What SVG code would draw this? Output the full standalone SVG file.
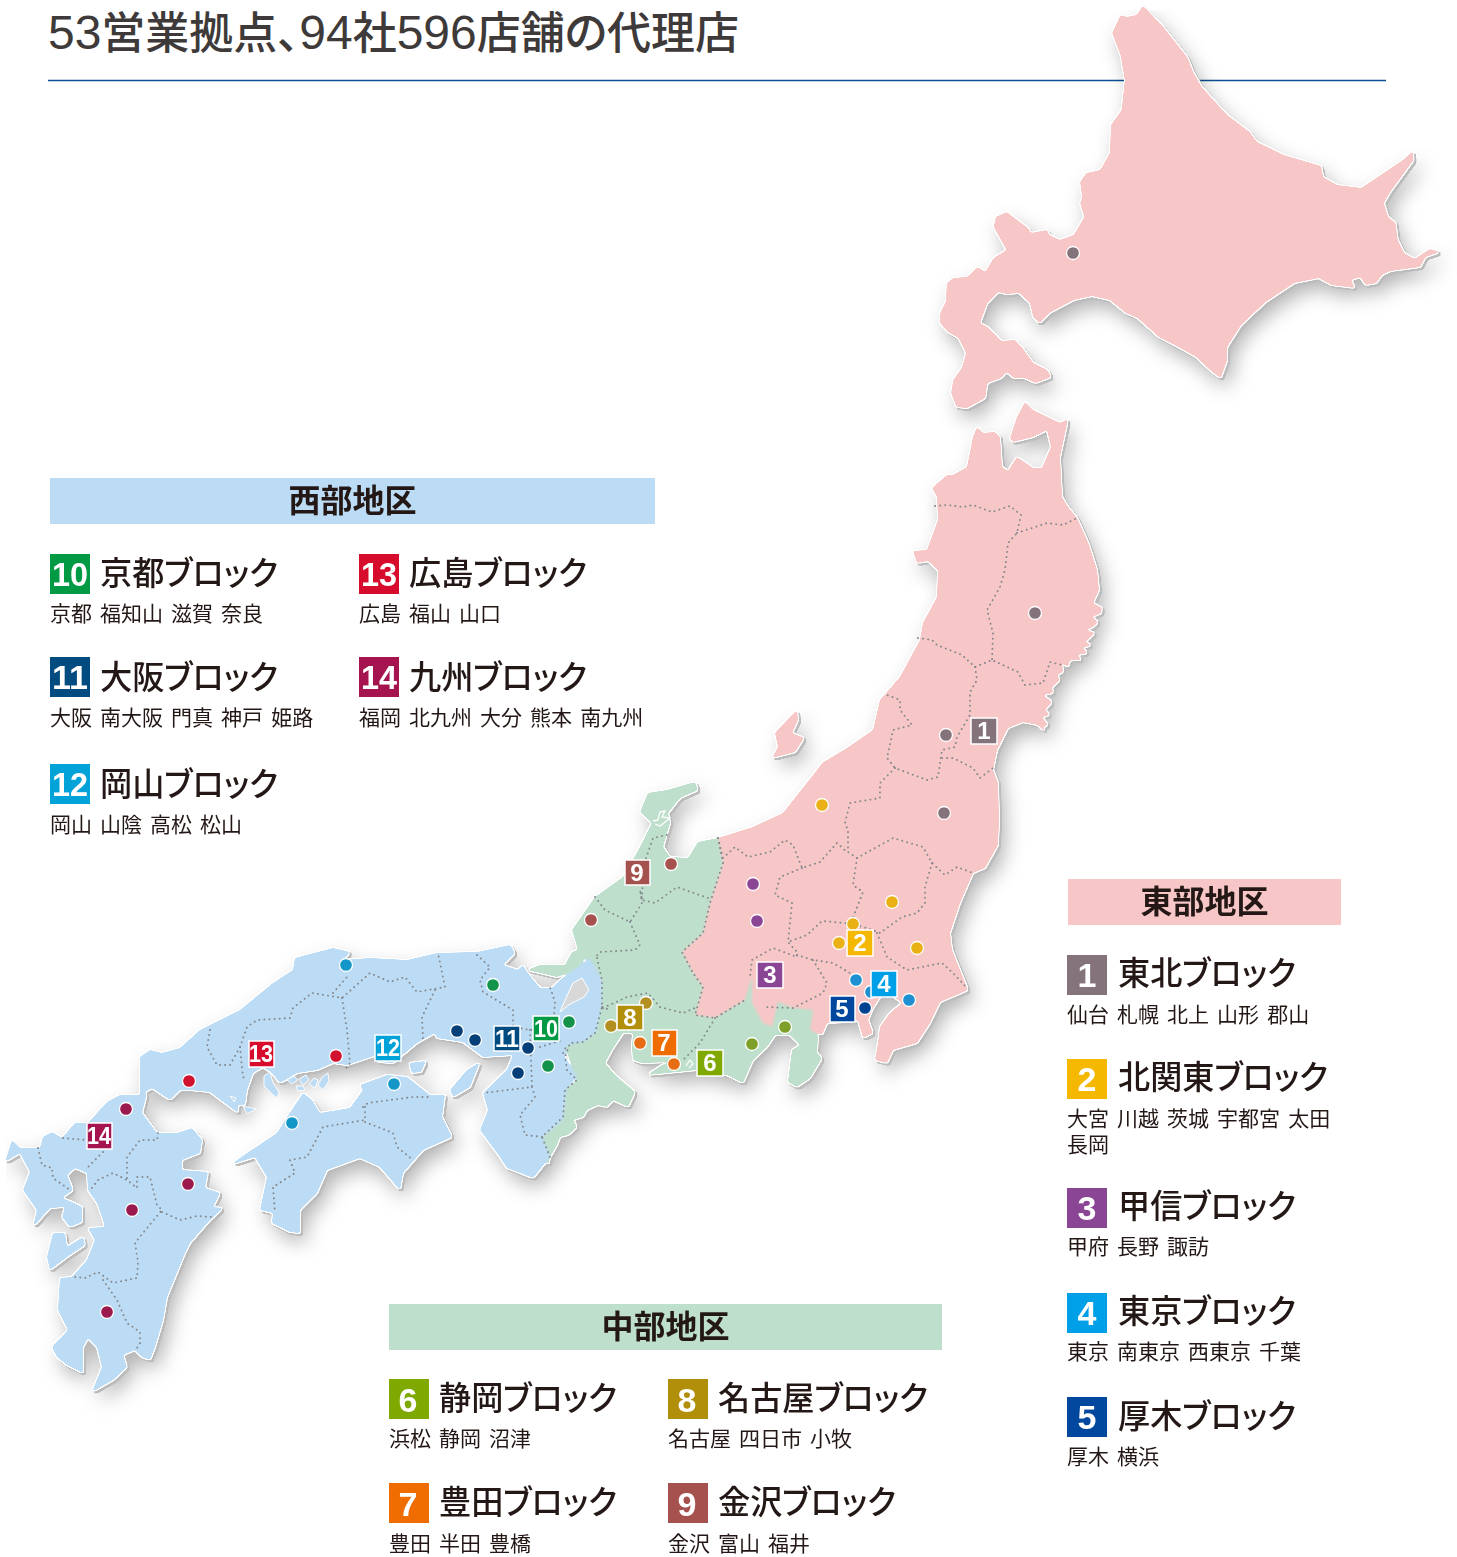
<svg xmlns="http://www.w3.org/2000/svg" width="1457" height="1557" viewBox="0 0 1457 1557">
<defs>
<filter id="shadow" filterUnits="userSpaceOnUse" x="0" y="0" width="1457" height="1557" color-interpolation-filters="sRGB">
<feGaussianBlur in="SourceGraphic" stdDeviation="1.2" result="b"/>
<feComponentTransfer in="b" result="t"><feFuncA type="linear" slope="7" intercept="-3"/></feComponentTransfer>
<feMorphology in="t" operator="dilate" radius="0.9" result="d"/>
<feFlood flood-color="#ffffff"/>
<feComposite in2="d" operator="in" result="white"/>
<feOffset in="d" dx="2" dy="2.2" result="h"/>
<feFlood flood-color="#bcbcbc"/>
<feComposite in2="h" operator="in" result="hard"/>
<feGaussianBlur in="t" stdDeviation="10" result="sb"/>
<feOffset in="sb" dx="6" dy="10" result="so"/>
<feFlood flood-color="#000000" flood-opacity="0.3"/>
<feComposite in2="so" operator="in" result="soft"/>
<feMerge><feMergeNode in="soft"/><feMergeNode in="hard"/><feMergeNode in="white"/><feMergeNode in="t"/></feMerge>
</filter>
</defs>
<style>
text{font-family:"Liberation Sans","Noto Sans CJK JP",sans-serif}
.title{font-size:44px;fill:#3e3a39;font-weight:500;font-feature-settings:"palt"}
.dg{font-size:48px;font-weight:400}
.pink{fill:#f6c7c6}.green{fill:#bedfcc}.blue{fill:#bcdcf5}
.bord{fill:none;stroke:#84878c;stroke-width:1.9;stroke-linecap:round;stroke-dasharray:0.1 5;stroke-linejoin:round}
.pt{stroke:#fff;stroke-width:1.3}
.mk{stroke:#fff;stroke-width:1.5}
.mt{font-weight:700;font-size:24px;fill:#fff;text-anchor:middle}
.area{font-size:32px;font-weight:700;fill:#231815;text-anchor:middle}
.bt{font-weight:700;font-size:34px;fill:#fff;text-anchor:middle}
.hd{font-size:33px;font-weight:500;fill:#231815;font-feature-settings:"palt"}
.sub{font-size:21px;fill:#231815;word-spacing:2.2px}
.isle{fill:#bcdcf5;stroke:#fff;stroke-width:.9}
</style>
<line x1="48" y1="80.5" x2="1386" y2="80.5" stroke="#0b4f92" stroke-width="1.5"/>
<text class="title" x="48" y="49" textLength="691" lengthAdjust="spacingAndGlyphs"><tspan class="dg">53</tspan>営業拠点、<tspan class="dg">94</tspan>社<tspan class="dg">596</tspan>店舗の代理店</text>

<g id="map" filter="url(#shadow)">
<path id="hokkaido" class="pink" transform="translate(900 0) scale(1.0657 1) translate(-900 0)" d="M1128 6L1132 10L1147 27L1170 58L1175 72L1183 87L1207 115L1228 132L1235 142L1260 155L1295 166L1297 177L1310 185L1333 188L1372 160L1381 151L1382 160L1375 170L1360 192L1354 203L1358 217L1365 223L1367 240L1373 253L1383 259L1397 249L1407 252L1393 257L1388 267L1360 271L1352 275L1347 283L1337 285L1332 277L1323 280L1327 288L1305 285L1293 278L1270 283L1243 302L1220 325L1207 347L1207 360L1201 378L1193 372L1178 357L1163 348L1143 337L1123 318L1112 313L1097 300L1080 296L1063 300L1040 313L1031 323L1025 317L1022 303L1012 293L1000 294L992 292L982 303L975 323L982 327L995 341L1008 340L1015 348L1025 363L1038 370L1042 377L1027 383L1017 378L1007 378L1000 372L995 378L982 383L980 398L963 408L953 407L948 393L950 380L958 368L962 353L955 338L945 332L937 322L938 312L943 302L944 283L950 278L963 277L973 267L980 272L988 258L1000 250L988 227L990 217L1000 212L1020 228L1023 233L1038 230L1040 235L1050 240L1063 235L1073 217L1069 203L1071 197L1069 182L1075 173L1088 170L1097 153L1098 125L1108 110L1111 80L1107 55L1099 33L1107 15L1113 17L1122 15Z"/>
<path id="tohoku-kanto" class="pink" d="M1025 402L1033 410L1060 423L1068 419L1060 457L1062 497L1068 507L1077 518L1087 540L1090 548L1097 570L1099 590L1093 603L1102 608L1101 613L1092 617L1098 622L1093 627L1086 630L1095 633L1085 642L1092 645L1082 648L1088 653L1077 655L1082 660L1070 660L1068 667L1062 663L1063 672L1057 675L1060 680L1052 687L1053 693L1043 695L1052 702L1045 710L1050 715L1042 717L1048 725L1043 727L1048 735L1038 725L1023 722L1008 728L997 750L993 770L998 783L999 820L998 845L985 868L973 873L960 903L950 933L952 950L968 990L940 1002L930 1023L917 1043L893 1050L887 1063L875 1060L878 1043L880 1027L890 1013L902 1003L888 992L880 997L873 1008L868 1020L873 1033L863 1038L858 1020L847 1022L827 1023L822 1035L810 1030L813 1010L793 1008L778 1002L772 1027L763 1023L752 1003L752 977L745 1000L715 1018L695 1015L703 987L693 973L682 952L703 933L710 903L723 863L718 838L753 827L783 813L817 770L822 763L847 748L873 730L880 700L900 677L920 640L923 623L937 597L938 570L928 561L917 563L913 551L927 550L938 520L937 497L932 488L947 475L953 475L967 467L973 437L977 427L983 433L995 432L1000 437L1002 467L1008 471L1017 457L1033 468L1042 468L1051 447L1047 430L1033 437L1013 442L1010 438L1017 417Z"/>
<path id="sado" class="pink" d="M797 710L798 720L792 733L804 738L795 752L772 758L778 747L775 733L787 720Z"/>
<path id="chubu" class="green" d="M718 838L723 863L710 903L703 933L682 952L693 973L703 987L695 1015L715 1018L745 1000L752 977L752 1003L763 1023L772 1027L778 1002L793 1008L813 1010L810 1030L818 1035L817 1053L822 1058L810 1078L797 1087L788 1082L792 1050L800 1045L790 1035L775 1035L767 1047L753 1060L743 1083L727 1075L697 1070L647 1075L662 1065L673 1062L642 1063L633 1060L632 1047L633 1033L623 1033L612 1050L605 1063L615 1075L635 1092L628 1107L613 1100L607 1107L598 1105L587 1110L583 1117L573 1120L577 1127L568 1135L560 1137L557 1145L550 1157L548 1167L542 1137L560 1120L565 1090L577 1080L565 1047L583 1042L595 1033L602 1007L602 980L585 958L577 970L557 977L540 973L527 970L540 965L565 965L572 952L578 950L572 930L595 897L623 877L640 847L652 823L640 812L648 793L667 790L695 782L698 790L680 798L668 813L670 823L663 847L670 857L688 858L698 842Z"/>
<path id="kansai-chugoku" class="blue" d="M140 1057L150 1050L162 1053L180 1048L200 1030L240 1010L273 983L293 970L295 958L333 948L350 952L343 960L370 958L407 960L437 953L477 952L510 945L515 953L503 965L518 970L523 965L527 972L540 988L552 988L560 980L590 958L602 980L602 1000L597 1030L587 1040L567 1045L565 1057L577 1077L567 1087L563 1120L543 1137L550 1157L533 1178L507 1168L500 1157L480 1130L488 1110L483 1093L507 1070L513 1055L483 1057L463 1042L437 1038L435 1033L417 1043L393 1063L378 1062L377 1055L347 1065L333 1063L317 1070L297 1073L280 1083L272 1073L263 1067L253 1073L247 1090L245 1105L238 1105L238 1113L210 1092L190 1090L180 1090L170 1100L152 1088L140 1095L140 1083Z"/>
<path id="shikoku" class="blue" d="M303 1093L312 1100L320 1113L350 1108L363 1090L360 1085L387 1075L407 1077L430 1095L445 1095L442 1117L452 1137L423 1150L403 1173L400 1190L380 1167L360 1158L327 1170L317 1193L300 1210L300 1233L290 1232L272 1223L273 1213L260 1210L267 1177L255 1157L230 1165L247 1153L277 1133L287 1117Z"/>
<path id="awaji" class="blue" d="M480 1062L470 1087L453 1097L450 1090L467 1070Z"/>
<path id="kyushu" class="blue" d="M107 1102L120 1095L138 1095L147 1093L142 1113L157 1133L177 1133L192 1128L202 1140L200 1153L182 1160L182 1170L208 1172L205 1188L220 1193L213 1207L223 1208L210 1220L190 1243L185 1253L167 1297L163 1320L155 1347L150 1360L142 1357L135 1350L123 1355L127 1367L113 1380L92 1392L102 1367L97 1347L88 1338L83 1347L83 1373L67 1365L57 1357L52 1347L68 1330L58 1310L60 1278L72 1277L87 1260L95 1240L88 1228L105 1227L102 1217L97 1203L88 1190L87 1173L75 1168L67 1175L73 1190L62 1198L72 1202L82 1207L82 1222L70 1227L62 1217L65 1207L50 1208L33 1227L37 1210L23 1190L30 1172L20 1153L5 1162L12 1140L20 1148L40 1148L43 1137L52 1132L62 1138L75 1123L88 1123Z"/>
<path id="amakusa" class="blue" d="M53 1233L65 1233L67 1247L83 1237L85 1245L67 1257L50 1270L47 1257Z"/>
<path class="blue" d="M409 1063L426 1061L421 1072L412 1073Z"/>
</g>

<g id="map-details">
<path fill="#d8d8d8" stroke="#fff" stroke-width="1" d="M560 1012L566 998L573 983L582 978L589 990L584 997L570 1004Z"/>
<path fill="none" stroke="#fff" stroke-width="1.3" d="M653 821L658 820L660 812L665 811L662 817L670 818L664 823L660 826L655 824"/>
<path fill="none" stroke="#fff" stroke-width="1.2" d="M686 1066L690 1060L693 1064L689 1068"/>
<path class="isle" d="M287 1080L294 1076L298 1080L292 1084Z"/>
<path class="isle" d="M299 1079L306 1075L309 1080L303 1085Z"/>
<path class="isle" d="M309 1084L314 1078L318 1080L315 1088Z"/>
<path class="isle" d="M318 1085L322 1077L328 1073L329 1081L323 1090Z"/>
<path class="isle" d="M296 1086L303 1086L305 1090L298 1091Z"/>
<path class="isle" d="M264 1076L270 1072L273 1083L279 1092L277 1098L271 1093L264 1086Z"/>
<path class="isle" d="M243 1106L256 1109L247 1114Z"/>
<path class="isle" d="M230 1096L236 1098L234 1102Z"/>
</g>

<g id="connectors">
<g class="bord">
<path d="M935 506L947 505L963 507L973 505L992 512L1010 506L1021 515L1017 533L1008 543L1005 570L1000 587L987 610L993 633L992 660"/>
<path d="M1017 533L1047 523L1063 525L1077 518"/>
<path d="M918 638L932 640L937 645L962 655L975 667L992 660L1018 672L1025 685L1043 683L1050 662L1062 665"/>
<path d="M975 667L977 680L970 692L970 715L957 737L955 747L942 750L938 777L927 780L895 768L887 758L893 730L912 725L900 710L900 700L887 695"/>
<path d="M942 758L953 758L973 768L980 778L993 768"/>
<path d="M895 768L880 783L880 798L850 803L845 823L848 830L848 852L857 858L893 838L923 847L932 863L945 875L957 867L973 873"/>
<path d="M718 838L723 858L735 847L748 857L770 852L785 840L793 845L802 868L820 862L837 843L848 853"/>
<path d="M802 868L780 877L775 895L792 903L788 942L797 952L797 957L773 948L752 960L750 977"/>
<path d="M857 858L853 885L863 892L852 920M932 863L925 887L925 903L917 913L902 917L880 933L873 930L853 924L833 922L822 921L807 935L788 942"/>
<path d="M877 933L887 957L907 970L942 963L953 973L967 988"/>
<path d="M797 955L813 960L833 963L850 973M813 960L827 983L823 993L803 1003L793 1008L765 1007"/>
<path d="M718 838L723 863L710 903L703 933L682 952L693 973L703 987L695 1015L715 1018L745 1000"/>
<path d="M715 1018L700 1043L683 1060"/>
<path d="M595 897L605 910L630 922L642 903L640 890L642 900L655 903L677 887L708 898M630 922L640 945L635 950L600 952L595 958"/>
<path d="M667 835L653 838L643 867L642 900"/>
<path d="M603 1008L627 997L648 993L660 1007L683 1013L695 1008"/>
<path d="M597 958L602 980L602 1007L595 1033L583 1042L570 1043L565 1057L567 1070L577 1080L565 1090L563 1117L542 1137L550 1157"/>
<path d="M210 1030L207 1047L217 1065L230 1065L240 1047L247 1027L257 1020L290 1018L293 1008L312 993L342 998L370 973L390 982L405 977L417 992L445 987L438 953"/>
<path d="M342 998L347 1030L350 1063L345 1070"/>
<path d="M333 993L347 977"/>
<path d="M240 1047L243 1077L247 1080"/>
<path d="M435 990L422 1017L423 1040"/>
<path d="M477 955L490 967L480 980L483 992L513 1010L513 1027L530 1030L553 1027L555 1002L550 987"/>
<path d="M530 1030L532 1087L483 1093M532 1087L535 1097L520 1115L525 1135L543 1137"/>
<path d="M540 1047L563 1040M563 1053L567 1045"/>
<path d="M602 1007L610 1010"/>
<path d="M363 1107L368 1103L413 1097L430 1097M365 1107L365 1120L323 1127L307 1157L290 1160L295 1173L273 1187L275 1213M365 1122L393 1133L397 1147L413 1160"/>
<path d="M38 1148L42 1165L52 1168L53 1178L70 1190M63 1138L87 1140M103 1152L85 1170M92 1188L98 1180L113 1173L127 1180L137 1188L137 1177L150 1177L157 1205L162 1210L143 1233L135 1243L138 1262L137 1278L113 1283L98 1272L85 1278L75 1277M127 1178L127 1157L140 1140L157 1140L158 1133M162 1212L180 1220L197 1216L212 1217M103 1280L117 1300L127 1323L140 1332L140 1343L137 1348"/>
</g>
</g>

<g id="points">
<circle class="pt" cx="1073" cy="253" r="6.5" fill="#85737b"/><circle class="pt" cx="1035" cy="613" r="6.5" fill="#85737b"/><circle class="pt" cx="946" cy="735" r="6.5" fill="#85737b"/><circle class="pt" cx="944" cy="813" r="6.5" fill="#85737b"/>
<circle class="pt" cx="822" cy="805" r="6.5" fill="#e9b116"/><circle class="pt" cx="892" cy="902" r="6.5" fill="#e9b116"/><circle class="pt" cx="917" cy="948" r="6.5" fill="#e9b116"/><circle class="pt" cx="853" cy="924" r="6.5" fill="#e9b116"/><circle class="pt" cx="839" cy="943" r="6.5" fill="#e9b116"/>
<circle class="pt" cx="753" cy="884" r="6.5" fill="#8a4594"/><circle class="pt" cx="757" cy="921" r="6.5" fill="#8a4594"/>
<circle class="pt" cx="856" cy="980" r="6.5" fill="#1f90d2"/><circle class="pt" cx="871" cy="992" r="6.5" fill="#1f90d2"/><circle class="pt" cx="909" cy="1000" r="6.5" fill="#1f90d2"/>
<circle class="pt" cx="865" cy="1008" r="6.5" fill="#00428f"/>
<circle class="pt" cx="752" cy="1044" r="6.5" fill="#7ea02a"/><circle class="pt" cx="785" cy="1027" r="6.5" fill="#7ea02a"/>
<circle class="pt" cx="640" cy="1043" r="6.5" fill="#e66d13"/><circle class="pt" cx="674" cy="1064" r="6.5" fill="#e66d13"/>
<circle class="pt" cx="646" cy="1003" r="6.5" fill="#b38f22"/><circle class="pt" cx="611" cy="1026" r="6.5" fill="#b38f22"/>
<circle class="pt" cx="671" cy="864" r="6.5" fill="#a5524f"/><circle class="pt" cx="591" cy="920" r="6.5" fill="#a5524f"/>
<circle class="pt" cx="493" cy="985" r="6.5" fill="#13924a"/><circle class="pt" cx="569" cy="1022" r="6.5" fill="#13924a"/><circle class="pt" cx="548" cy="1066" r="6.5" fill="#13924a"/>
<circle class="pt" cx="457" cy="1031" r="6.5" fill="#044077"/><circle class="pt" cx="475" cy="1040" r="6.5" fill="#044077"/><circle class="pt" cx="528" cy="1048" r="6.5" fill="#044077"/><circle class="pt" cx="518" cy="1073" r="6.5" fill="#044077"/>
<circle class="pt" cx="346" cy="965" r="6.5" fill="#1497c8"/><circle class="pt" cx="394" cy="1084" r="6.5" fill="#1497c8"/><circle class="pt" cx="292" cy="1123" r="6.5" fill="#1497c8"/>
<circle class="pt" cx="336" cy="1056" r="6.5" fill="#d0122f"/><circle class="pt" cx="189" cy="1081" r="6.5" fill="#d0122f"/>
<circle class="pt" cx="126" cy="1109" r="6.5" fill="#9b1a4e"/><circle class="pt" cx="188" cy="1184" r="6.5" fill="#9b1a4e"/><circle class="pt" cx="132" cy="1210" r="6.5" fill="#9b1a4e"/><circle class="pt" cx="107" cy="1312" r="6.5" fill="#9b1a4e"/>
</g>

<g id="markers">
<g id="m1"><rect class="mk" x="971" y="718" width="26" height="26" fill="#85737b"/><text class="mt" x="984" y="739">1</text></g>
<g id="m2"><rect class="mk" x="847" y="930" width="26" height="26" fill="#f5b800"/><text class="mt" x="860" y="951">2</text></g>
<g id="m3"><rect class="mk" x="757" y="962" width="26" height="26" fill="#8a4594"/><text class="mt" x="770" y="983">3</text></g>
<g id="m4"><rect class="mk" x="871" y="971" width="26" height="26" fill="#00a0e9"/><text class="mt" x="884" y="992">4</text></g>
<g id="m5"><rect class="mk" x="830" y="996" width="25" height="26" fill="#00479d"/><text class="mt" x="842" y="1017">5</text></g>
<g id="m6"><rect class="mk" x="697" y="1050" width="26" height="26" fill="#7fa800"/><text class="mt" x="710" y="1071">6</text></g>
<g id="m7"><rect class="mk" x="652" y="1030" width="25" height="26" fill="#ee6c00"/><text class="mt" x="664" y="1051">7</text></g>
<g id="m8"><rect class="mk" x="617" y="1005" width="26" height="25" fill="#b28f0a"/><text class="mt" x="630" y="1026">8</text></g>
<g id="m9"><rect class="mk" x="625" y="860" width="25" height="25" fill="#a5524f"/><text class="mt" x="637" y="881">9</text></g>
<g id="m10"><rect class="mk" x="533" y="1016" width="26" height="25" fill="#009944"/><text class="mt" x="546" y="1037" textLength="24" lengthAdjust="spacingAndGlyphs">10</text></g>
<g id="m11"><rect class="mk" x="494" y="1026" width="26" height="25" fill="#004b80"/><text class="mt" x="507" y="1047" textLength="24" lengthAdjust="spacingAndGlyphs">11</text></g>
<g id="m12"><rect class="mk" x="375" y="1035" width="26" height="26" fill="#00a2d8"/><text class="mt" x="388" y="1056" textLength="24" lengthAdjust="spacingAndGlyphs">12</text></g>
<g id="m13"><rect class="mk" x="249" y="1041" width="25" height="26" fill="#d70c2c"/><text class="mt" x="261" y="1062" textLength="24" lengthAdjust="spacingAndGlyphs">13</text></g>
<g id="m14"><rect class="mk" x="87" y="1123" width="25" height="26" fill="#a5144e"/><text class="mt" x="99" y="1144" textLength="24" lengthAdjust="spacingAndGlyphs">14</text></g>
</g>

<g id="west">
<rect x="50" y="478" width="605" height="46" fill="#bcdcf5"/><text class="area" x="352.500" y="512">西部地区</text>
<g id="b10"><rect x="50" y="554" width="40" height="40" fill="#009944"/><text class="bt" x="70" y="586" textLength="36" lengthAdjust="spacingAndGlyphs">10</text><text class="hd" x="100" y="585" textLength="178" lengthAdjust="spacingAndGlyphs">京都ブロック</text><text class="sub" x="50" y="621">京都 福知山 滋賀 奈良</text></g>
<g id="b11"><rect x="50" y="657" width="40" height="40" fill="#004b80"/><text class="bt" x="70" y="689" textLength="36" lengthAdjust="spacingAndGlyphs">11</text><text class="hd" x="100" y="689" textLength="178" lengthAdjust="spacingAndGlyphs">大阪ブロック</text><text class="sub" x="50" y="725">大阪 南大阪 門真 神戸 姫路</text></g>
<g id="b12"><rect x="50" y="764" width="40" height="40" fill="#00a2d8"/><text class="bt" x="70" y="796" textLength="36" lengthAdjust="spacingAndGlyphs">12</text><text class="hd" x="100" y="796" textLength="178" lengthAdjust="spacingAndGlyphs">岡山ブロック</text><text class="sub" x="50" y="832">岡山 山陰 高松 松山</text></g>
<g id="b13"><rect x="359" y="554" width="40" height="40" fill="#d70c2c"/><text class="bt" x="379" y="586" textLength="36" lengthAdjust="spacingAndGlyphs">13</text><text class="hd" x="409" y="585" textLength="178" lengthAdjust="spacingAndGlyphs">広島ブロック</text><text class="sub" x="359" y="621">広島 福山 山口</text></g>
<g id="b14"><rect x="359" y="657" width="40" height="40" fill="#a5144e"/><text class="bt" x="379" y="689" textLength="36" lengthAdjust="spacingAndGlyphs">14</text><text class="hd" x="409" y="689" textLength="178" lengthAdjust="spacingAndGlyphs">九州ブロック</text><text class="sub" x="359" y="725">福岡 北九州 大分 熊本 南九州</text></g>
</g>

<g id="central">
<rect x="389" y="1304" width="553" height="46" fill="#bedfcc"/><text class="area" x="665.500" y="1338">中部地区</text>
<g id="b6"><rect x="389" y="1379" width="40" height="40" fill="#7fa800"/><text class="bt" x="408" y="1412">6</text><text class="hd" x="439" y="1410" textLength="178" lengthAdjust="spacingAndGlyphs">静岡ブロック</text><text class="sub" x="389" y="1446">浜松 静岡 沼津</text></g>
<g id="b7"><rect x="389" y="1483" width="40" height="40" fill="#ee6c00"/><text class="bt" x="408" y="1516">7</text><text class="hd" x="439" y="1514" textLength="178" lengthAdjust="spacingAndGlyphs">豊田ブロック</text><text class="sub" x="389" y="1551">豊田 半田 豊橋</text></g>
<g id="b8"><rect x="668" y="1379" width="40" height="40" fill="#b28f0a"/><text class="bt" x="687" y="1412">8</text><text class="hd" x="718" y="1410" textLength="210" lengthAdjust="spacingAndGlyphs">名古屋ブロック</text><text class="sub" x="668" y="1446">名古屋 四日市 小牧</text></g>
<g id="b9"><rect x="668" y="1483" width="40" height="40" fill="#a5524f"/><text class="bt" x="687" y="1516">9</text><text class="hd" x="718" y="1514" textLength="178" lengthAdjust="spacingAndGlyphs">金沢ブロック</text><text class="sub" x="668" y="1551">金沢 富山 福井</text></g>
</g>

<g id="east">
<rect x="1068" y="879" width="273" height="46" fill="#f6c7c6"/><text class="area" x="1204.500" y="913">東部地区</text>
<g id="b1"><rect x="1067" y="955" width="40" height="40" fill="#85737b"/><text class="bt" x="1087" y="987">1</text><text class="hd" x="1118" y="985" textLength="178" lengthAdjust="spacingAndGlyphs">東北ブロック</text><text class="sub" x="1067" y="1022">仙台 札幌 北上 山形 郡山</text></g>
<g id="b2"><rect x="1067" y="1059" width="40" height="40" fill="#f5b800"/><text class="bt" x="1087" y="1091">2</text><text class="hd" x="1118" y="1089" textLength="210" lengthAdjust="spacingAndGlyphs">北関東ブロック</text><text class="sub" x="1067" y="1126">大宮 川越 茨城 宇都宮 太田</text><text class="sub" x="1067" y="1152">長岡</text></g>
<g id="b3"><rect x="1067" y="1188" width="40" height="40" fill="#8a4594"/><text class="bt" x="1087" y="1220">3</text><text class="hd" x="1118" y="1218" textLength="178" lengthAdjust="spacingAndGlyphs">甲信ブロック</text><text class="sub" x="1067" y="1254">甲府 長野 諏訪</text></g>
<g id="b4"><rect x="1067" y="1293" width="40" height="40" fill="#00a0e9"/><text class="bt" x="1087" y="1325">4</text><text class="hd" x="1118" y="1323" textLength="178" lengthAdjust="spacingAndGlyphs">東京ブロック</text><text class="sub" x="1067" y="1359">東京 南東京 西東京 千葉</text></g>
<g id="b5"><rect x="1067" y="1397" width="40" height="40" fill="#00479d"/><text class="bt" x="1087" y="1429">5</text><text class="hd" x="1118" y="1428" textLength="178" lengthAdjust="spacingAndGlyphs">厚木ブロック</text><text class="sub" x="1067" y="1464">厚木 横浜</text></g>
</g>
</svg>
